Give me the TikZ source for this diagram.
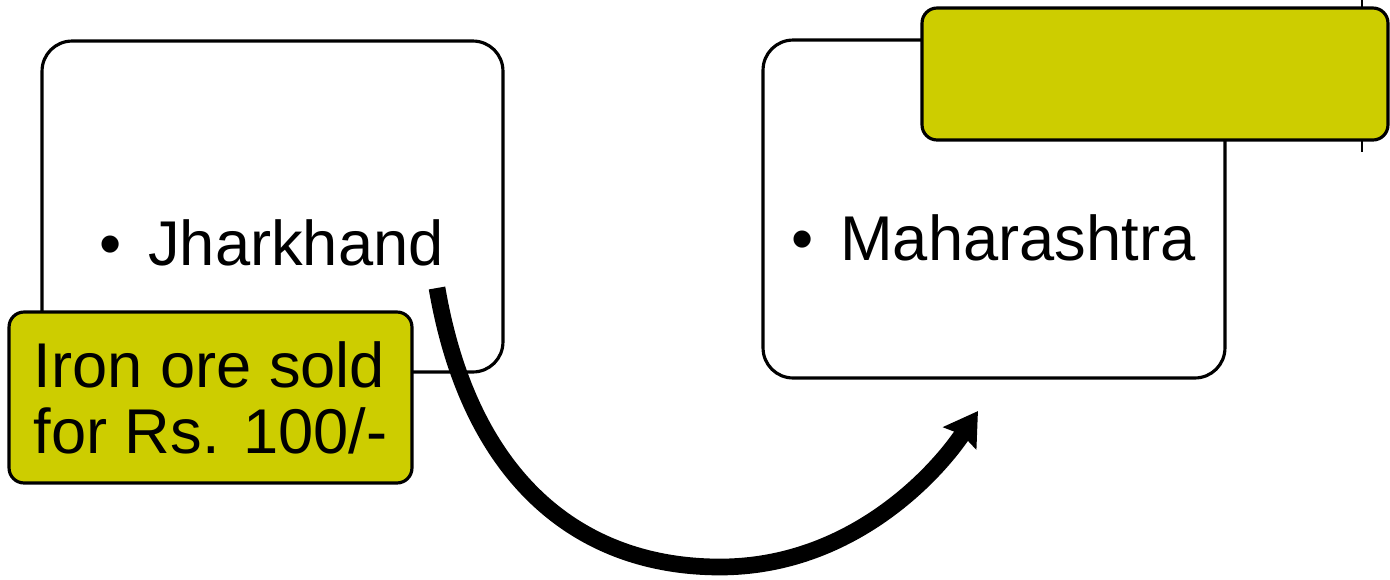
\documentclass[tikz,border=0pt]{standalone}
\usepackage{fontspec}
\setmainfont{Liberation Sans}
\usetikzlibrary{arrows.meta}
\definecolor{jaune}{RGB}{205,205,0}

\begin{document}
\begin{tikzpicture}[x=0.02cm,y=-0.02cm,
    boite/.style={draw,line width=1.8pt,rounded corners=0.6cm,fill=white,inner sep=0pt},
    etiquette/.style={draw,line width=1.8pt,rounded corners=0.3cm,fill=jaune,inner sep=0pt},
    texte/.style={font=\fontsize{36}{37.5}\selectfont},
    puce/.style={texte,anchor=base west,inner sep=0pt},
    fleche/.style={line width=9.5pt,-{Stealth[length=0.65cm,width=0.78cm,inset=0.08cm]}}]
    \useasboundingbox (0,0) rectangle (1390,579);
    % petit trait vertical derrière l'étiquette du haut
    \draw[line width=0.8pt] (1362,0) -- (1362,152);
    % Boîtes blanches
    \node[boite,minimum width=9.22cm,minimum height=6.62cm] (jhar) at (272.5,206.5) {};
    \node[boite,minimum width=9.24cm,minimum height=6.76cm] (maha) at (994,209) {};
    \node[puce] (jhartexte) at (148,265) {\llap{\textbullet\hspace{15pt}}Jharkhand};
    \node[puce] (mahatexte) at (840,260) {\llap{\textbullet\hspace{15pt}}Maharashtra};
    % Étiquettes jaunes
    \node[etiquette,minimum width=9.32cm,minimum height=2.64cm] (vide) at (1155,74) {};
    \node[etiquette,texte,align=left,minimum width=8.06cm,minimum height=3.42cm] (fer) at (210.5,397.5)
        {Iron ore sold\\for Rs. 100/-};
    % Flèche courbe
    \coordinate (depart) at (437,288);
    \coordinate (arrivee) at (978,411);
    \draw[fleche] (depart) .. controls (470,480) and (580,567) .. (720,567)
        .. controls (850,567) and (935,475) .. (arrivee);
\end{tikzpicture}
\end{document}
